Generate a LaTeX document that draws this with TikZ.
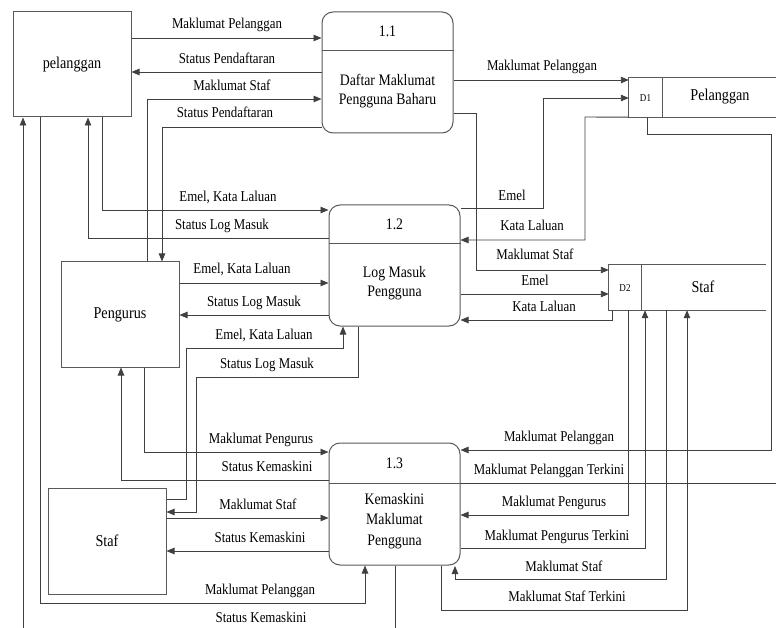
\documentclass[tikz,border=0pt]{standalone}
\usepackage{fontspec}
\setmainfont{Liberation Serif}[FakeStretch=0.86]
\usetikzlibrary{arrows.meta,calc}

\begin{document}
\begin{tikzpicture}[x=1pt,y=-1pt,
  ent/.style={draw=black!65, line width=1pt, minimum width=118pt, minimum height=105pt,
    inner sep=0pt, font=\fontsize{16.5}{19}\selectfont},
  proc/.style={draw=black!65, line width=1pt, rounded corners=11pt, minimum width=131pt,
    minimum height=121pt, inner sep=0pt},
  ptext/.style={align=center, inner sep=0pt, font=\fontsize{16}{19.5}\selectfont},
  store/.style={inner sep=0pt, draw=none},
  sline/.style={draw=black!65, line width=1pt},
  lbl/.style={inner sep=0pt, text height=10pt, text depth=0pt, font=\fontsize{15}{18}\selectfont},
  wire/.style={draw=black!75, line width=0.9pt},
  flow/.style={wire, -{Triangle[length=8pt,width=6.5pt]}},
]
\clip (0,0) rectangle (776,628);
\fill[white] (0,0) rectangle (776,628);

% external entities
\node[ent] (pel)  at (72,64.5)  {pelanggan};
\node[ent] (peng) at (120,314.5) {Pengurus};
\node[ent, minimum height=106pt] (staf) at (107,541) {Staf};

% processes
\node[proc] (p11) at (387.5,72.5) {};
\draw[sline] (p11.west |- 0,51) -- (p11.east |- 0,51);
\node[ptext] (p11id) at (387.5,31) {1.1};
\node[ptext] (p11tx) at (387.5,91) {Daftar Maklumat\\Pengguna Baharu};

\node[proc] (p12) at (394.5,265.5) {};
\draw[sline] (p12.west |- 0,244) -- (p12.east |- 0,244);
\node[ptext] (p12id) at (394.5,224) {1.2};
\node[ptext] (p12tx) at (394.5,283) {Log Masuk\\Pengguna};

\node[proc, minimum height=122pt] (p13) at (394.5,504) {};
\draw[sline] (p13.west |- 0,483) -- (p13.east |- 0,483);
\node[ptext] (p13id) at (394.5,463) {1.3};
\node[ptext, font=\fontsize{16}{20.5}\selectfont] (p13tx) at (394.5,521) {Kemaskini\\Maklumat\\Pengguna};

% data stores (open on the right)
\node[store, minimum width=148pt, minimum height=39pt] (d1) at (703,97.5) {};
\draw[sline] (d1.north east) -- (d1.north west) -- (d1.south west) -- (d1.south east);
\draw[sline] (662,78) -- (662,117);
\node[inner sep=0pt, font=\fontsize{10.5}{12}\selectfont] (d1id) at (645.5,98) {D1};
\node[inner sep=0pt, font=\fontsize{16.5}{19}\selectfont] (d1tx) at (720,97) {Pelanggan};

\node[store, minimum width=157pt, minimum height=45pt] (d2) at (687.5,287.5) {};
\draw[sline] (d2.north east) -- (d2.north west) -- (d2.south west) -- (d2.south east);
\draw[sline] (641,265) -- (641,310);
\node[inner sep=0pt, font=\fontsize{10.5}{12}\selectfont] (d2id) at (625,288) {D2};
\node[inner sep=0pt, font=\fontsize{16.5}{19}\selectfont] (d2tx) at (703,287) {Staf};

% flows around 1.1
\draw[flow] (pel.east |- 0,38) -- (p11.west |- 0,38);
\node[lbl] (l1) at (227,24) {Maklumat Pelanggan};
\draw[flow] (p11.west |- 0,72) -- (pel.east |- 0,72);
\node[lbl] (l2) at (227,59) {Status Pendaftaran};
\draw[flow] (peng.north -| 147,0) -- (147,99) -- (p11.west |- 0,99);
\node[lbl] (l3) at (232,86) {Maklumat Staf};
\draw[flow] (p11.west |- 0,127) -- (162,127) -- (peng.north -| 162,0);
\node[lbl] (l4) at (225,113) {Status Pendaftaran};
\draw[flow] (p11.east |- 0,80) -- (d1.west |- 0,80);
\node[lbl] (l5) at (542,66) {Maklumat Pelanggan};
\draw[flow] (p11.east |- 0,113) -- (476,113) -- (476,270) -- (d2.west |- 0,270);
\node[lbl] (l6) at (535,255) {Maklumat Staf};

% flows around 1.2
\draw[flow] (pel.south -| 102,0) -- (102,210) -- (p12.west |- 0,210);
\node[lbl] (l7) at (228,197) {Emel, Kata Laluan};
\draw[flow] (p12.west |- 0,238) -- (88,238) -- (pel.south -| 88,0);
\node[lbl] (l8) at (222,225) {Status Log Masuk};
\draw[flow] (peng.east |- 0,283) -- (p12.west |- 0,283);
\node[lbl] (l9) at (242,269) {Emel, Kata Laluan};
\draw[flow] (p12.west |- 0,315) -- (peng.east |- 0,315);
\node[lbl] (l10) at (254,301) {Status Log Masuk};
\draw[flow] (staf.east |- 0,499) -- (186,499) -- (186,348) -- (343,348) -- (p12.south -| 343,0);
\node[lbl] (l11) at (264,334) {Emel, Kata Laluan};
\draw[flow] (p12.south -| 358,0) -- (358,377) -- (196,377) -- (196,512) -- (staf.east |- 0,512);
\node[lbl] (l12) at (267,363) {Status Log Masuk};
\draw[flow] (p12.east |- 0,208) -- (543,208) -- (543,98) -- (d1.west |- 0,98);
\node[lbl] (l13) at (512,196) {Emel};
\draw[flow] (d1.south west) -- (585,117) -- (585,240) -- (p12.east |- 0,240);
\node[lbl] (l14) at (532,226) {Kata Laluan};
\draw[flow] (p12.east |- 0,294) -- (d2.west |- 0,294);
\node[lbl] (l15) at (535,280) {Emel};
\draw[flow] (d2.south -| 612,0) -- (612,320) -- (p12.east |- 0,320);
\node[lbl] (l16) at (544,307) {Kata Laluan};

% flows around 1.3
\draw[flow] (d1.south -| 647,0) -- (647,134) -- (771,134) -- (771,450) -- (p13.east |- 0,450);
\node[lbl] (l17) at (559,436) {Maklumat Pelanggan};
\coordinate (offright) at (790,483);
\draw[wire] (p13.east |- 0,483) -- (offright);
\node[lbl] (l18) at (549,469) {Maklumat Pelanggan Terkini};
\draw[flow] (d2.south -| 628,0) -- (628,515) -- (p13.east |- 0,515);
\node[lbl] (l19) at (554,501) {Maklumat Pengurus};
\draw[flow] (p13.east |- 0,548) -- (645,548) -- (d2.south -| 645,0);
\node[lbl] (l20) at (557,535) {Maklumat Pengurus Terkini};
\draw[flow] (d2.south -| 666,0) -- (666,579) -- (455,579) -- (455,566);
\node[lbl] (l21) at (564,566) {Maklumat Staf};
\draw[flow] (p13.south -| 441,0) -- (441,610) -- (687,610) -- (d2.south -| 687,0);
\node[lbl] (l22) at (567,596) {Maklumat Staf Terkini};

\draw[flow] (peng.south -| 144,0) -- (144,452) -- (p13.west |- 0,452);
\node[lbl] (l23) at (261,438) {Maklumat Pengurus};
\draw[flow] (p13.west |- 0,480) -- (121,480) -- (peng.south -| 121,0);
\node[lbl] (l24) at (267,466) {Status Kemaskini};
\draw[flow] (staf.east |- 0,518) -- (p13.west |- 0,518);
\node[lbl] (l25) at (258,504) {Maklumat Staf};
\draw[flow] (p13.west |- 0,551) -- (staf.east |- 0,551);
\node[lbl] (l26) at (260,537) {Status Kemaskini};
\draw[flow] (pel.south -| 40,0) -- (40,603) -- (365,603) -- (p13.south -| 365,0);
\node[lbl] (l27) at (260,589) {Maklumat Pelanggan};
\draw[flow] (p13.south -| 395,0) -- (395,645) -- (23,645) -- (pel.south -| 23,0);
\node[lbl] (l28) at (261,617) {Status Kemaskini};
\end{tikzpicture}
\end{document}
